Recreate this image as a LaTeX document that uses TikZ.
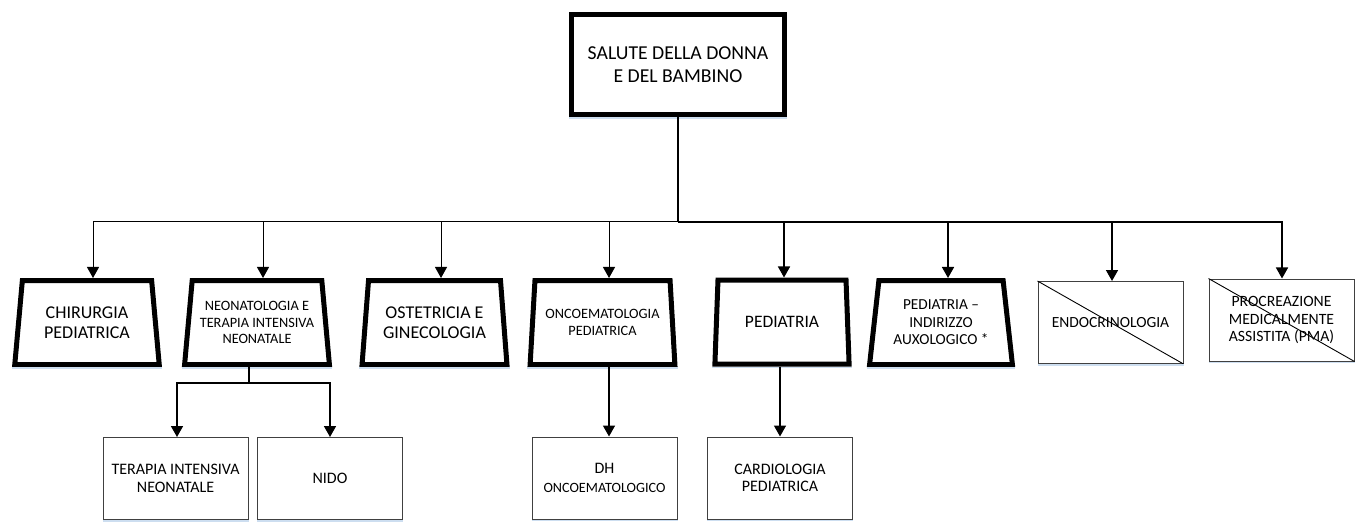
\documentclass[tikz,border=0pt]{standalone}
\usepackage{fontspec}
\setmainfont{Carlito}
\usetikzlibrary{shapes.geometric,arrows.meta}
\definecolor{shadowblue}{RGB}{205,222,240}
\begin{document}
\begin{tikzpicture}[x=1pt,y=-1pt,
  trap/.style={trapezium, trapezium angle=81, trapezium stretches=true, draw, line width=5pt,
    minimum width=145pt, minimum height=84pt, inner sep=0pt, align=center, fill=white},
  rbox/.style={rectangle, draw=black!75, line width=1pt, minimum width=145pt, minimum height=82pt,
    inner sep=0pt, align=center, fill=white},
  arr/.style={-{Triangle[width=12pt,length=11pt]}},
  thinl/.style={line width=1pt},
  thickl/.style={line width=1.6pt},
  shd/.style={draw=shadowblue, line width=1.5pt},
  fa/.style={font=\fontsize{18}{20}\selectfont},
  fb/.style={font=\fontsize{14.3}{16.5}\selectfont},
  fc/.style={font=\fontsize{15.5}{17.5}\selectfont}]
\useasboundingbox (0,0) rectangle (1359,529);
% top
\node[draw, line width=5pt, minimum width=213pt, minimum height=100pt, inner sep=0pt, align=center,
  font=\fontsize{19.7}{23}\selectfont] (top) at (678,64.5) {SALUTE DELLA DONNA\\E DEL BAMBINO};
% level 2
\node[trap, fa] (chir) at (87,322.5) {CHIRURGIA\\PEDIATRICA};
\node[trap, fb] (neo) at (257,322.5) {NEONATOLOGIA E\\TERAPIA INTENSIVA\\NEONATALE};
\node[trap, fa] (ost) at (434.5,322.5) {OSTETRICIA E\\GINECOLOGIA};
\node[trap, fb] (onc) at (602.5,322.5) {ONCOEMATOLOGIA\\PEDIATRICA};
\node[trap, minimum width=135pt, font=\fontsize{17.5}{20}\selectfont] (ped) at (782,322) {PEDIATRIA};
\node[trap, minimum width=143pt, font=\fontsize{15.3}{17.5}\selectfont] (aux) at (941,322.5) {PEDIATRIA --\\INDIRIZZO\\AUXOLOGICO *};
\node[rbox, fc] (endo) at (1110.5,322.5) {ENDOCRINOLOGIA};
\node[rbox, font=\fontsize{15.7}{17.5}\selectfont] (pma) at (1281.5,320) {PROCREAZIONE\\MEDICALMENTE\\ASSISTITA (PMA)};
\draw[line width=0.9pt] (endo.north west) -- (endo.south east);
\draw[line width=0.9pt] (pma.north west) -- (pma.south east);
% level 3
\node[rbox, font=\fontsize{16}{17.5}\selectfont] (ter) at (175.5,478.5) {TERAPIA INTENSIVA\\NEONATALE};
\node[rbox, font=\fontsize{16}{19}\selectfont] (nido) at (330,478.5) {NIDO};
\node[rbox, font=\fontsize{16}{19}\selectfont] (dh) at (604.5,478) {DH\\\fontsize{14.2}{16}\selectfont ONCOEMATOLOGICO};
\node[rbox, font=\fontsize{16}{17.5}\selectfont] (card) at (780,478) {CARDIOLOGIA\\PEDIATRICA};
% faint shadows
\foreach \n in {ter,nido,dh,card,endo,pma}
  \draw[shd] ([yshift=-1.2pt]\n.south west) -- ([yshift=-1.2pt]\n.south east);
\foreach \n in {chir,neo,ost,onc,ped,aux}
  \draw[shd] ([yshift=-1pt]\n.bottom left corner) -- ([yshift=-1pt]\n.bottom right corner);
\draw[shd] ([yshift=-1pt]top.south west) -- ([yshift=-1pt]top.south east);
% connectors
\coordinate (hub) at (678,222);
\draw[line width=2pt] (top.south) -- (hub);
\draw[thinl, arr] (hub) -| ([xshift=6pt]chir.north);
\draw[thinl, arr] (hub) -| ([xshift=6pt]neo.north);
\draw[thinl, arr] (hub) -| ([xshift=6.5pt]ost.north);
\draw[thinl, arr] (hub) -| ([xshift=6.5pt]onc.north);
\draw[thickl, arr] (hub) -| ([xshift=2pt]ped.north);
\draw[thickl, arr] (hub) -| ([xshift=7pt]aux.north);
\draw[thickl, arr] (hub) -| ([xshift=1.5pt]endo.north);
\draw[thickl, arr] (hub) -| ([xshift=0.5pt]pma.north);
\draw[thickl] ([xshift=-8pt]neo.south) -- ++(0,16) coordinate (nj);
\draw[thickl, arr] (nj) -| ([xshift=1.5pt]ter.north);
\draw[thickl, arr] (nj) -| (nido.north);
\draw[thickl, arr] ([xshift=4.5pt]dh.north |- onc.south) -- ([xshift=4.5pt]dh.north);
\draw[thickl, arr] (card.north |- ped.south) -- (card.north);
\end{tikzpicture}
\end{document}
